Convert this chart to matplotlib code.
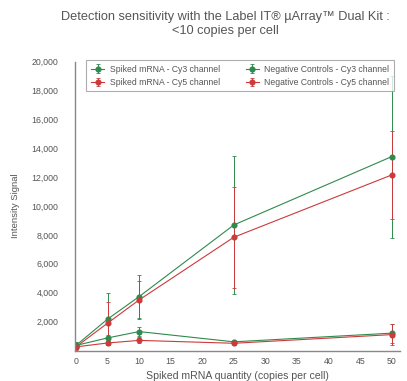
import matplotlib
matplotlib.use("Agg")
import matplotlib.pyplot as plt

plt.rcParams['font.family'] = ['Liberation Sans', 'DejaVu Sans']

x = [0, 5, 10, 25, 50]
spiked_cy3 = [350, 2170, 3730, 8690, 13420]
spiked_cy3_err = [250, 1800, 1500, 4800, 5600]
spiked_cy5 = [250, 1890, 3500, 7840, 12150]
spiked_cy5_err = [200, 1500, 1300, 3500, 3050]
neg_cy3 = [350, 870, 1310, 600, 1200]
neg_cy3_err = [100, 200, 300, 150, 650]
neg_cy5 = [250, 520, 700, 500, 1100]
neg_cy5_err = [100, 150, 200, 150, 700]

yticks = [2000, 4000, 6000, 8000, 10000, 12000, 14000, 16000, 18000, 20000]
xticks = [0, 5, 10, 15, 20, 25, 30, 35, 40, 45, 50]

green = '#2f8a4e'
red = '#cc3a3a'
textc = '#555555'

fig = plt.figure(figsize=(4.07, 3.81), dpi=100)
ax = fig.add_axes([75/407, 30.5/381, 325/407, 289/381])

kw = dict(marker='o', markersize=3.4, linewidth=0.8, elinewidth=0.7, capsize=1.5, capthick=0.6)
ax.errorbar(x, spiked_cy3, yerr=spiked_cy3_err, color=green, label='Spiked mRNA - Cy3 channel', **kw)
ax.errorbar(x, spiked_cy5, yerr=spiked_cy5_err, color=red, label='Spiked mRNA - Cy5 channel', **kw)
ax.errorbar(x, neg_cy3, yerr=neg_cy3_err, color=green, label='Negative Controls - Cy3 channel', **kw)
ax.errorbar(x, neg_cy5, yerr=neg_cy5_err, color=red, label='Negative Controls - Cy5 channel', **kw)

ax.set_xlim(-0.15, 51.3)
ax.set_ylim(0, 20000)
ax.set_xticks(xticks)
ax.set_yticks(yticks)
ax.set_yticklabels([f"{v:,}" for v in yticks])
ax.tick_params(axis='y', labelsize=6.3, colors=textc, length=0, pad=12)
ax.tick_params(axis='x', labelsize=6.3, colors=textc, length=0, pad=5)
for s in ['top', 'right']:
    ax.spines[s].set_visible(False)
for s in ['left', 'bottom']:
    ax.spines[s].set_color('#888888')
    ax.spines[s].set_linewidth(1.0)

ax.set_xlabel('Spiked mRNA quantity (copies per cell)', fontsize=7.6, color=textc, labelpad=3)
ax.set_ylabel('Intensity Signal', fontsize=6.8, color=textc, labelpad=8)

h, l = ax.get_legend_handles_labels()
leg = fig.legend(h, l, loc='upper left', bbox_to_anchor=(82/407, 1 - 56/381), ncol=2, fontsize=6.2,
                 frameon=True, fancybox=False, edgecolor='#999999', borderpad=0.5,
                 columnspacing=3.0, handlelength=1.6, handletextpad=0.6, labelspacing=0.5)
leg.get_frame().set_linewidth(0.8)
for t in leg.get_texts():
    t.set_color(textc)

fig.suptitle('Detection sensitivity with the Label IT\u00ae \u00b5Array\u2122 Dual Kit :\n<10 copies per cell',
             x=225/407, y=1 - 11/381, fontsize=9.2, color=textc, va='top', linespacing=1.2)

fig.savefig('out.png', dpi=100, facecolor='white')
